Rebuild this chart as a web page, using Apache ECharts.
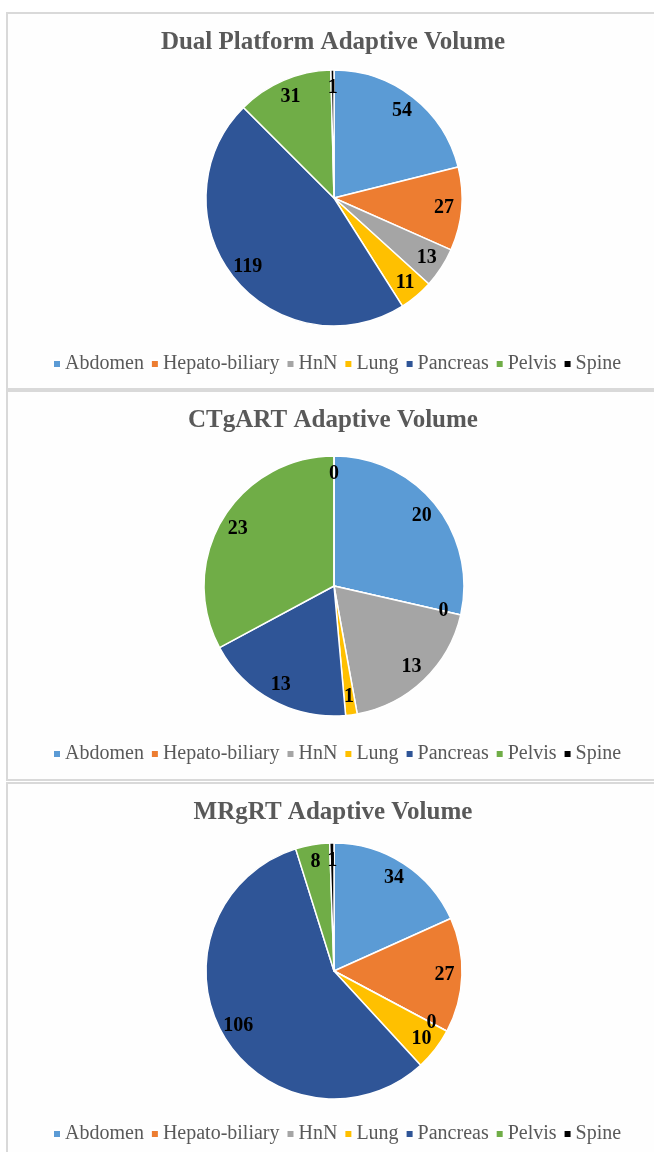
<!DOCTYPE html>
<html>
<head>
<meta charset="utf-8">
<script src="https://cdn.jsdelivr.net/npm/echarts@6/dist/echarts.min.js"></script>
<style>
html,body{margin:0;padding:0;background:#fff;}
#c{width:654px;height:1152px;}
</style>
</head>
<body>
<div id="c"></div>
<script>
const categories = ['Abdomen','Hepato-biliary','HnN','Lung','Pancreas','Pelvis','Spine'];
const colors = ['#5B9BD5','#ED7D31','#A5A5A5','#FFC000','#2F5597','#70AD47','#000000'];
const titles = ['Dual Platform Adaptive Volume','CTgART Adaptive Volume','MRgRT Adaptive Volume'];
const dualValues = [54, 27, 13, 11, 119, 31, 1];
const ctgartValues = [20, 0, 13, 1, 13, 23, 0];
const mrgrtValues = [34, 27, 0, 10, 106, 8, 1];
const allValues = [dualValues, ctgartValues, mrgrtValues];

// layout per panel
const panels = [
  {y:13, h:376, titleTop:30, cy:198, r:128, legendTop:354},
  {y:391, h:389, titleTop:408, cy:586, r:130, legendTop:744},
  {y:783, h:380, titleTop:800, cy:971, r:128, legendTop:1124}
];
const cx = 334;
const FONT = '"Liberation Serif", "Times New Roman", serif';

const chart = echarts.init(document.getElementById('c'), null, {renderer:'canvas'});
const series = [];
const title = [];
const legend = [];
const graphic = [];

panels.forEach((p, i) => {
  graphic.push({type:'rect', z:0, shape:{x:7, y:p.y, width:660, height:p.h},
    style:{fill:'#FEFEFE', stroke:'#D9D9D9', lineWidth:2}});
  title.push({text:titles[i], left:333, top:p.titleTop, textAlign:'center', padding:0,
    textStyle:{fontFamily:FONT, fontWeight:'bold', fontSize:25, color:'#595959'}});
  legend.push({data:categories.slice(), left:52, top:p.legendTop, padding:0,
    icon:'rect', itemWidth:8, itemHeight:8, itemGap:6, selectedMode:false,
    textStyle:{fontFamily:FONT, fontSize:20, color:'#595959', padding:[0,0,0,-1]}});
  series.push({
    type:'pie', center:[cx, p.cy], radius:[0, p.r], startAngle:90, clockwise:true,
    silent:true, animation:false, z:2,
    itemStyle:{borderColor:'#FFFFFF', borderWidth:1.5},
    label:{show:false}, labelLine:{show:false},
    data: categories.map((n, k) => ({name:n, value:allValues[i][k], itemStyle:{color:colors[k]}}))
  });
  series.push({
    type:'pie', center:[cx, p.cy], radius:[p.r*0.68, p.r], startAngle:90, clockwise:true,
    silent:true, animation:false, z:3, avoidLabelOverlap:false,
    labelLayout:{hideOverlap:false},
    itemStyle:{color:'rgba(0,0,0,0)', borderWidth:0},
    label:{show:true, position:'inside', formatter:'{c}', fontFamily:FONT, fontWeight:'bold',
      fontSize:20, color:'#000000'},
    labelLine:{show:false},
    data: allValues[i].map(v => ({value:v}))
  });
});

chart.setOption({
  backgroundColor:'#FFFFFF',
  color: colors,
  animation:false,
  title: title,
  legend: legend,
  graphic: graphic,
  series: series
});
</script>
</body>
</html>
